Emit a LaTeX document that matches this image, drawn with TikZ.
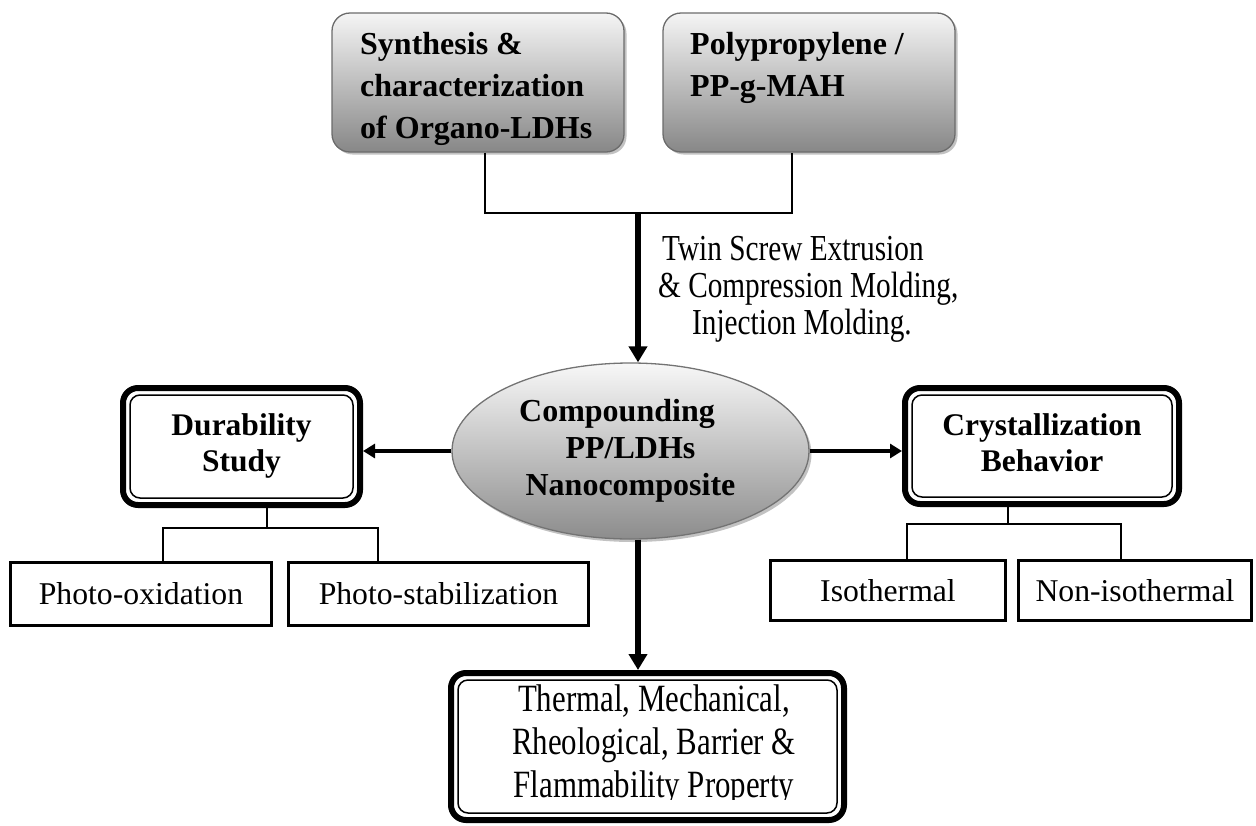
\documentclass[tikz,border=0pt]{standalone}
\usepackage{fontspec}
\setmainfont{Liberation Serif}
\newfontfamily\condfont[FakeStretch=0.8]{Liberation Serif}
\usetikzlibrary{shapes.geometric,shadows,arrows.meta}
\begin{document}
\begin{tikzpicture}[x=1pt,y=-1pt,
  topbox/.style={draw=black!58, line width=1.3, rounded corners=18,
    top color=black!4, bottom color=black!47, inner sep=0,
    drop shadow={shadow xshift=2.5pt, shadow yshift=-2.5pt, fill=black!40, opacity=0.6}},
  toptext/.style={anchor=base west, inner sep=0, font=\bfseries\fontsize{32}{42}\selectfont},
  dblbox/.style={draw, line width=6, rounded corners=15, fill=white, inner sep=0,
    font=\bfseries\fontsize{31.5}{36}\selectfont},
  innerframe/.style={line width=1.5, rounded corners=10},
  plainbox/.style={draw, line width=3, inner sep=0, fill=white,
    font=\fontsize{31.7}{36}\selectfont},
  conn/.style={line width=1.5},
  vArrow/.style={line width=5.5, -{Triangle[length=16pt,width=18pt]}},
  sArrow/.style={line width=4.5, -{Triangle[length=12pt,width=14pt]}}
]
\useasboundingbox (0,0) rectangle (1256,825);

% top boxes
\node[topbox, minimum width=292, minimum height=139] (syn) at (478,82.5) {};
\node[toptext] (syntxt) at (360,54)
  {\begin{tabular}[t]{@{}l@{}}Synthesis \&\\characterization\\of Organo-LDHs\end{tabular}};
\node[topbox, minimum width=292, minimum height=139] (pp) at (809,82.5) {};
\node[toptext] (pptxt) at (690,54)
  {\begin{tabular}[t]{@{}l@{}}Polypropylene /\\PP-g-MAH\end{tabular}};

% central ellipse
\node[ellipse, draw=black!55, line width=1.3, top color=black!3, bottom color=black!45,
  drop shadow={shadow xshift=2.5pt, shadow yshift=-3pt, fill=black!40, opacity=0.6},
  minimum width=357, minimum height=176, inner sep=0,
  font=\bfseries\fontsize{32}{37}\selectfont] (ell) at (630.5,451)
  {\raisebox{-5pt}{\begin{tabular}{@{}c@{}}Compounding\hspace*{27pt}\\PP/LDHs\\Nanocomposite\end{tabular}}};

% junction of top connectors
\coordinate (jt) at (638,213);
\coordinate (ja) at ([xshift=7]syn.south);
\coordinate (jb) at ([xshift=-17]pp.south);
\draw[conn] (ja) |- (jt) -| (jb);
\draw[vArrow] (jt) -- (jt |- ell.north);

\node[anchor=base west, inner sep=0, font=\condfont\fontsize{36.6}{37}\selectfont] (lbl) at (658,260)
  {\begin{tabular}[t]{@{}l@{}}\hspace*{4pt}Twin Screw Extrusion\\\& Compression Molding,\\\hspace*{34pt}Injection Molding.\end{tabular}};

% side boxes
\node[dblbox, minimum width=237, minimum height=117] (dur) at (241.5,446.5)
  {\raisebox{-5pt}{\begin{tabular}{@{}c@{}}Durability\\Study\end{tabular}}};
\draw[innerframe] ([shift={(10,10)}]dur.north west) rectangle ([shift={(-10,-10)}]dur.south east);
\node[dblbox, minimum width=274, minimum height=116] (cry) at (1042,446)
  {\raisebox{-5pt}{\begin{tabular}{@{}c@{}}Crystallization\\Behavior\end{tabular}}};
\draw[innerframe] ([shift={(10,10)}]cry.north west) rectangle ([shift={(-10,-10)}]cry.south east);

\draw[sArrow] (ell.west) -- (ell.west -| dur.east);
\draw[sArrow] (ell.east) -- (ell.east -| cry.west);

% sub boxes
\node[plainbox, minimum width=261, minimum height=63] (pox) at (141,594) {Photo-oxidation};
\node[plainbox, minimum width=300, minimum height=63] (pst) at (438.5,594) {Photo-stabilization};
\node[plainbox, minimum width=235, minimum height=60] (iso) at (888,590.5) {Isothermal};
\node[plainbox, minimum width=233, minimum height=60] (non) at (1135,590.5) {Non-isothermal};

\coordinate (dj) at (267,528);
\coordinate (pa) at ([xshift=22]pox.north);
\coordinate (pb) at ([xshift=-60.5]pst.north);
\draw[conn] (dur.south -| dj) -- (dj);
\draw[conn] (pa) |- (dj) -| (pb);

\coordinate (cj) at (1008,524);
\coordinate (ia) at ([xshift=19]iso.north);
\coordinate (ib) at ([xshift=-14]non.north);
\draw[conn] (cry.south -| cj) -- (cj);
\draw[conn] (ia) |- (cj) -| (ib);

% bottom box
\node[dblbox, minimum width=393, minimum height=147] (bot) at (647.5,746.5) {};
\draw[innerframe] ([shift={(10,10)}]bot.north west) rectangle ([shift={(-10,-10)}]bot.south east);
\begin{scope}
\clip (440,660) rectangle (860,799.5);
\node[anchor=base, inner sep=0, font=\condfont\fontsize{38.6}{43}\selectfont] (bottxt) at (654,711)
  {\begin{tabular}[t]{@{}c@{}}Thermal, Mechanical,\\Rheological, Barrier \&\\Flammability Property\end{tabular}};
\end{scope}
\draw[vArrow] (ell.south -| jt) -- (jt |- bot.north);
\end{tikzpicture}
\end{document}
